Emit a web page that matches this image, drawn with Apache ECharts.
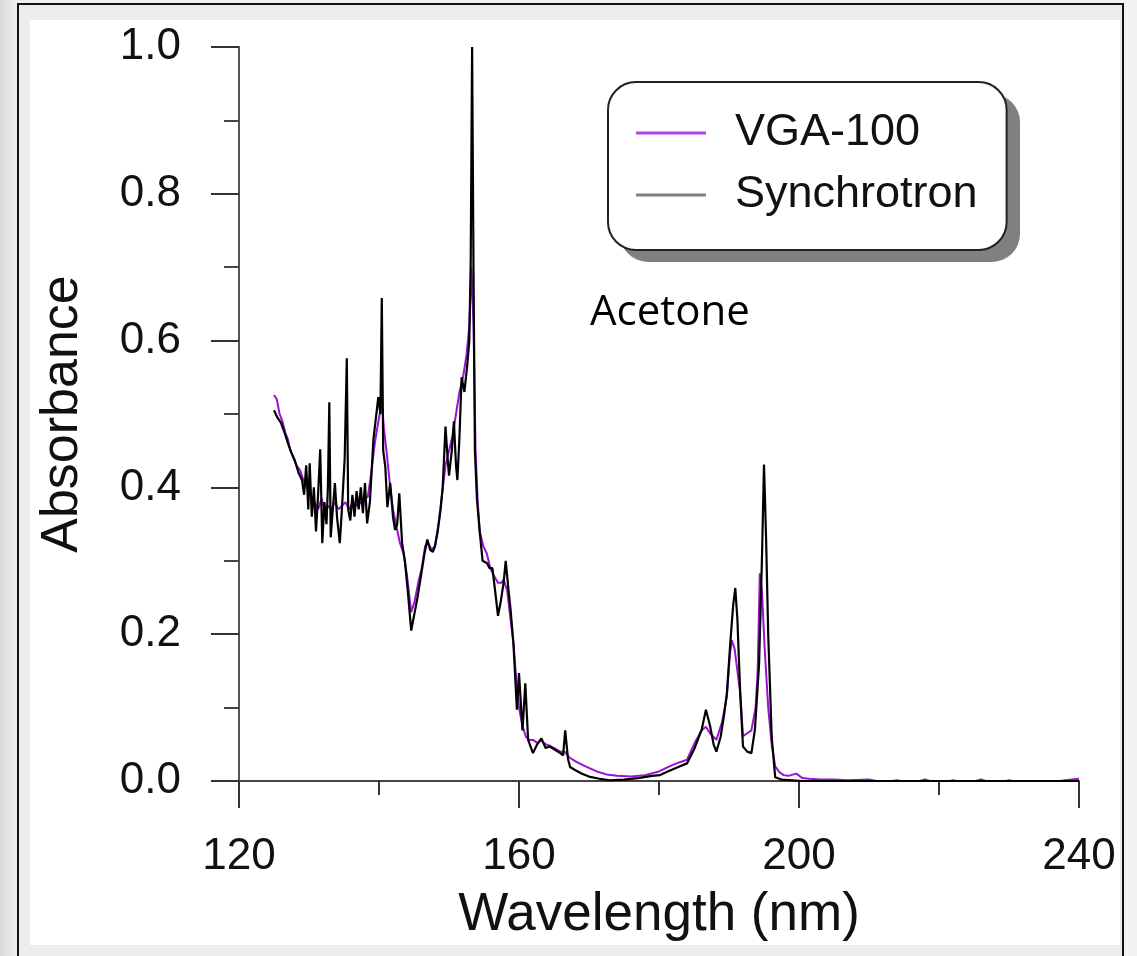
<!DOCTYPE html>
<html>
<head>
<meta charset="utf-8">
<title>Acetone absorbance</title>
<style>
    html, body { margin: 0; padding: 0; }
    body { width: 1137px; height: 956px; overflow: hidden; position: relative;
           background: linear-gradient(to right, #d9d9d9 0px, #efefef 18px, #f2f2f2 100%); }
    .frame { position: absolute; left: 17px; top: 3px; width: 1103px; height: 980px;
             border: 2px solid #111; background: #ececec; }
    .panel { position: absolute; left: 30px; top: 20px; width: 1090px; height: 925px; background: #fff; }
    #main { position: absolute; left: 0; top: 0; width: 1137px; height: 956px; }
</style>
</head>
<body>
<div class="frame"></div>
<div class="panel"></div>
<div id="main"></div>
<script src="https://cdn.jsdelivr.net/npm/echarts@6/dist/echarts.min.js"></script>
<script>
// Synchrotron (black) - wavelength (nm) / absorbance
var synWl = [125.0,125.5,126.0,126.5,127.0,127.5,128.0,128.5,129.0,129.3,129.6,129.9,130.1,130.4,130.7,131.0,131.3,131.6,131.9,132.2,
  132.5,132.7,132.9,133.1,133.4,133.7,134.0,134.4,134.7,135.1,135.4,135.6,135.9,136.2,136.5,136.8,137.1,137.4,137.7,138.0,
  138.3,138.7,139.2,139.9,140.2,140.4,140.6,140.9,141.2,141.6,142.0,142.3,142.6,142.9,143.3,143.7,144.1,144.6,145.0,145.5,
  146.0,146.5,146.9,147.3,147.7,148.0,148.4,148.8,149.1,149.5,149.8,150.0,150.4,150.7,151.0,151.2,151.5,151.8,152.2,152.6,
  152.9,153.1,153.3,153.5,153.7,154.0,154.4,154.8,155.4,155.8,156.2,156.7,157.0,157.4,157.8,158.1,158.5,158.8,159.2,159.7,
  160.0,160.5,160.9,161.3,162.0,162.6,163.2,163.8,164.4,165.2,165.9,166.3,166.6,167.0,167.3,168.0,169.0,170.0,171.5,173.0,
  175.0,177.0,179.0,180.1,181.0,182.5,184.0,185.1,186.1,186.7,187.3,187.8,188.2,188.8,189.3,189.7,190.2,190.6,190.9,191.2,
  191.6,192.0,192.6,193.2,193.7,194.3,194.7,195.0,195.3,195.6,196.1,196.6,197.5,199.0,200.5,203.0,206.0,210.0,215.0,220.0,
  225.0,230.0,235.0,240.0];
var synAbs = [0.505,0.495,0.488,0.475,0.46,0.447,0.436,0.42,0.41,0.39,0.43,0.37,0.433,0.36,0.40,0.34,0.39,0.452,0.324,0.38,
  0.35,0.40,0.516,0.332,0.37,0.406,0.36,0.324,0.37,0.44,0.576,0.37,0.355,0.39,0.36,0.395,0.37,0.40,0.365,0.406,
  0.351,0.38,0.465,0.523,0.50,0.658,0.45,0.428,0.373,0.406,0.36,0.342,0.35,0.392,0.324,0.30,0.26,0.205,0.225,0.25,
  0.28,0.31,0.329,0.315,0.312,0.32,0.341,0.37,0.40,0.483,0.44,0.416,0.45,0.49,0.43,0.41,0.47,0.55,0.53,0.566,
  0.60,0.707,1.0,0.70,0.45,0.383,0.338,0.30,0.297,0.29,0.29,0.25,0.225,0.245,0.27,0.30,0.26,0.233,0.188,0.097,
  0.147,0.069,0.133,0.056,0.038,0.05,0.058,0.045,0.047,0.042,0.038,0.035,0.069,0.03,0.019,0.015,0.01,0.006,0.003,0.001,
  0.002,0.004,0.007,0.008,0.012,0.018,0.024,0.045,0.07,0.097,0.075,0.05,0.040,0.06,0.09,0.12,0.19,0.24,0.263,0.22,
  0.12,0.047,0.04,0.038,0.07,0.16,0.30,0.431,0.33,0.20,0.06,0.005,0.002,0.001,0.0,0.0,0.0,0.0,0.0,0.0,
  0.0,0.0,0.0,0.0];

// VGA-100 (purple)
var vgaWl = [125.0,125.4,125.8,126.2,126.6,127.0,127.3,127.8,128.2,128.7,129.2,129.7,130.2,130.8,131.3,131.8,132.3,132.7,133.2,133.7,
  134.2,134.7,135.2,135.7,136.3,136.9,137.5,138.0,138.4,138.9,139.4,139.7,140.1,140.4,140.7,141.1,141.6,142.0,142.5,143.0,
  143.5,144.0,144.6,145.1,145.6,146.1,146.6,147.0,147.5,148.0,148.5,149.0,149.5,150.0,150.5,151.0,151.5,152.0,152.5,152.9,
  153.2,153.5,153.8,154.1,154.4,154.9,155.4,155.9,156.4,157.0,157.5,157.8,158.3,158.8,159.2,159.6,160.0,160.5,161.0,161.5,
  162.0,162.6,163.2,163.8,164.4,165.0,165.9,166.5,167.2,168.2,169.5,171.1,172.5,174.0,176.0,178.0,180.0,181.5,182.5,184.0,
  185.1,186.1,186.7,187.3,188.2,189.0,189.7,190.1,190.4,190.8,191.2,191.6,192.0,192.6,193.2,193.8,194.1,194.4,194.7,195.1,
  195.6,196.1,196.6,197.2,197.8,198.5,199.6,200.5,201.5,203.0,205.0,207.0,210.0,212.0,214.0,216.0,218.0,220.0,222.0,224.0,
  226.0,228.0,230.0,232.0,234.0,236.0,238.0,240.0];
var vgaAbs = [0.526,0.52,0.50,0.49,0.475,0.465,0.451,0.44,0.43,0.424,0.41,0.40,0.39,0.38,0.37,0.385,0.365,0.375,0.37,0.38,
  0.37,0.375,0.38,0.37,0.38,0.375,0.38,0.385,0.387,0.42,0.46,0.478,0.50,0.52,0.48,0.447,0.40,0.37,0.346,0.324,
  0.31,0.28,0.23,0.245,0.27,0.29,0.32,0.325,0.315,0.32,0.35,0.39,0.43,0.45,0.47,0.50,0.53,0.55,0.58,0.62,
  0.70,0.62,0.45,0.38,0.34,0.32,0.31,0.29,0.28,0.27,0.27,0.274,0.26,0.22,0.188,0.14,0.10,0.075,0.06,0.056,
  0.056,0.052,0.055,0.05,0.048,0.045,0.04,0.04,0.032,0.026,0.02,0.013,0.009,0.007,0.006,0.008,0.013,0.02,0.024,0.029,
  0.052,0.069,0.074,0.065,0.056,0.08,0.115,0.17,0.192,0.18,0.15,0.12,0.061,0.065,0.069,0.10,0.15,0.283,0.26,0.18,
  0.10,0.05,0.02,0.012,0.008,0.007,0.01,0.004,0.003,0.002,0.002,0.001,0.002,-0.002,0.001,-0.003,0.002,-0.004,0.001,-0.003,
  0.002,-0.004,0.001,-0.003,0.0,-0.002,0.001,0.003];

var xTicks = { min: 120, max: 240, step: 40 };
var yTicks = { min: 0, max: 1.0, step: 0.2 };

function zip(a, b) {
  return a.map(function (v, i) { return [v, b[i]]; });
}

var myChart = echarts.init(document.getElementById('main'), null, { renderer: 'canvas' });

var axisFont = 'Liberation Sans, Arial, sans-serif';

var option = {
  animation: false,
  backgroundColor: 'transparent',
  grid: {
    left: 239, right: 58, top: 47, bottom: 175,
    containLabel: false,
    outerBoundsMode: 'none'
  },
  legend: {
    orient: 'vertical',
    left: 608,
    top: 82,
    z: 10,
    padding: [26, 29, 30, 28],
    icon: 'rect',
    itemWidth: 70,
    itemHeight: 3,
    itemGap: 12,
    backgroundColor: '#fff',
    borderColor: '#222',
    borderWidth: 2,
    borderRadius: 28,
    textStyle: {
      fontFamily: axisFont, fontSize: 45, lineHeight: 50, color: '#111',
      padding: [0, 0, 0, 24]
    },
    data: [
      { name: 'VGA-100', itemStyle: { color: '#b444e6', borderWidth: 0 } },
      { name: 'Synchrotron', itemStyle: { color: '#808080', borderWidth: 0 } }
    ]
  },
  xAxis: {
    type: 'value',
    min: xTicks.min, max: xTicks.max, interval: xTicks.step,
    name: 'Wavelength (nm)',
    nameLocation: 'middle',
    nameGap: 108,
    nameTextStyle: { fontFamily: axisFont, fontSize: 53, color: '#111' },
    axisLine: { show: true, onZero: false, lineStyle: { color: '#444', width: 2 } },
    axisTick: { show: true, length: 27, lineStyle: { color: '#333', width: 2 } },
    minorTick: { show: true, splitNumber: 2, length: 14, lineStyle: { color: '#333', width: 2 } },
    axisLabel: { margin: 54, fontFamily: axisFont, fontSize: 44, color: '#111', showMinLabel: true, showMaxLabel: true },
    splitLine: { show: false },
    minorSplitLine: { show: false }
  },
  yAxis: {
    type: 'value',
    min: yTicks.min, max: yTicks.max, interval: yTicks.step,
    name: 'Absorbance',
    nameLocation: 'middle',
    nameGap: 150,
    nameTextStyle: { fontFamily: axisFont, fontSize: 52, color: '#111' },
    axisLine: { show: true, lineStyle: { color: '#555', width: 2 } },
    axisTick: { show: true, length: 28, lineStyle: { color: '#333', width: 2 } },
    minorTick: { show: true, splitNumber: 2, length: 15, lineStyle: { color: '#444', width: 2 } },
    axisLabel: {
      margin: 58, fontFamily: axisFont, fontSize: 44, color: '#111',
      formatter: function (v) { return v.toFixed(1); }
    },
    splitLine: { show: false },
    minorSplitLine: { show: false }
  },
  graphic: [
    {
      // legend drop shadow
      type: 'rect',
      z: 1,
      shape: { x: 620, y: 94, width: 400, height: 168, r: 28 },
      style: { fill: '#808080' }
    },
    {
      type: 'text',
      left: 590,
      top: 292,
      style: { text: 'Acetone', fontFamily: 'Open Sans, Noto Sans, sans-serif', fontSize: 42, fill: '#000' }
    }
  ],
  series: [
    {
      name: 'VGA-100',
      type: 'line',
      data: zip(vgaWl, vgaAbs),
      symbol: 'none',
      lineStyle: { color: '#9a12d2', width: 2 },
      itemStyle: { color: '#9a12d2' },
      z: 2
    },
    {
      name: 'Synchrotron',
      type: 'line',
      data: zip(synWl, synAbs),
      symbol: 'none',
      lineStyle: { color: '#000', width: 2.2 },
      itemStyle: { color: '#000' },
      z: 3
    }
  ]
};

myChart.setOption(option);
</script>
</body>
</html>
